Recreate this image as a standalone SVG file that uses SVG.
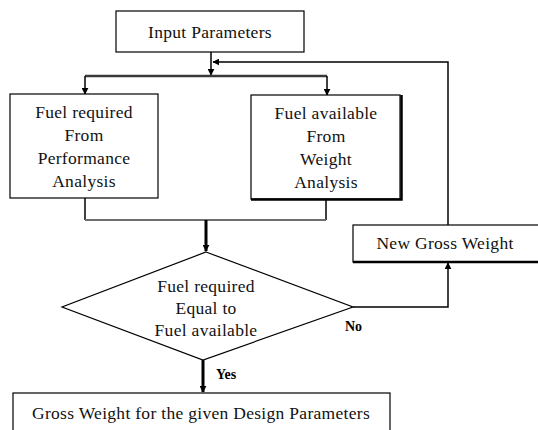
<svg xmlns="http://www.w3.org/2000/svg" width="538" height="430" viewBox="0 0 538 430">
  <style>
    .box { fill: #ffffff; stroke: #000000; stroke-width: 1.2; }
    .txt { font-family: 'Liberation Serif', Tinos, 'Times New Roman', 'DejaVu Serif', serif; font-size: 17.5px; fill: #111111; text-anchor: middle; letter-spacing: 0.3px; }
    .lbl { font-family: 'Liberation Serif', Tinos, 'Times New Roman', 'DejaVu Serif', serif; font-size: 14px; font-weight: bold; fill: #000000; }
    .ln { fill: none; stroke: #000000; stroke-width: 1.5; }
    .thick { fill: none; stroke: #000000; stroke-width: 3; }
    .gray { fill: none; stroke: #6e6e6e; stroke-width: 2.2; }
    .dark { fill: none; stroke: #3a3a3a; stroke-width: 2.5; }
  </style>
  <defs>
    <marker id="arrow" viewBox="0 0 10 10" refX="9" refY="5" markerWidth="7" markerHeight="7" markerUnits="userSpaceOnUse" orient="auto">
      <path d="M0,0 L10,5 L0,10 z" fill="#000000"/>
    </marker>
  </defs>

  <!-- connectors -->
  <g id="connectors">
    <!-- input to split -->
    <path class="ln" d="M211,52 V75" marker-end="url(#arrow)"/>
    <path class="dark" d="M85,76 H327"/>
    <path class="ln" d="M85,76 V94" marker-end="url(#arrow)"/>
    <path class="ln" d="M327,76 V95" marker-end="url(#arrow)"/>
    <!-- merge into decision -->
    <path class="ln" d="M85,198 V220"/>
    <path class="ln" d="M326,200 V220"/>
    <path class="gray" d="M85,220 H326"/>
    <path class="thick" d="M206,220 V251" marker-end="url(#arrow)"/>
    <!-- No branch -->
    <path class="ln" d="M353,307 H448 V263" marker-end="url(#arrow)"/>
    <!-- feedback loop -->
    <path class="ln" d="M448,225 V62 H213" marker-end="url(#arrow)"/>
    <!-- Yes branch -->
    <path class="thick" d="M203,360 V392" marker-end="url(#arrow)"/>
  </g>

  <g id="input">
    <rect class="box" x="116" y="11" width="188" height="41"/>
    <text class="txt" x="210" y="38">Input Parameters</text>
  </g>

  <g id="fuel-required">
    <rect class="box" x="10" y="94" width="148" height="104"/>
    <text class="txt" x="84" y="118">Fuel required</text>
    <text class="txt" x="84" y="141">From</text>
    <text class="txt" x="84" y="164">Performance</text>
    <text class="txt" x="84" y="187">Analysis</text>
  </g>

  <g id="fuel-available">
    <rect class="box" x="251" y="95" width="149" height="104"/>
    <path d="M251,199.5 H401.5 V95" fill="none" stroke="#000" stroke-width="2.5"/>
    <text class="txt" x="326" y="119">Fuel available</text>
    <text class="txt" x="326" y="142">From</text>
    <text class="txt" x="326" y="165">Weight</text>
    <text class="txt" x="326" y="188">Analysis</text>
  </g>

  <g id="decision">
    <polygon class="box" points="206,252 353,307 203,360 62,307"/>
    <text class="txt" x="206" y="292">Fuel required</text>
    <text class="txt" x="206" y="314">Equal to</text>
    <text class="txt" x="206" y="336">Fuel available</text>
  </g>

  <g id="new-gross-weight">
    <rect class="box" x="353" y="225" width="200" height="37"/>
    <path d="M353,262 H540" fill="none" stroke="#000" stroke-width="2.5"/>
    <text class="txt" x="445" y="249">New Gross Weight</text>
  </g>

  <g id="result">
    <rect class="box" x="13" y="393" width="377" height="50"/>
    <text class="txt" x="201" y="419">Gross Weight for the given Design Parameters</text>
  </g>

  <g id="labels">
    <text class="lbl" x="345" y="331">No</text>
    <text class="lbl" x="216" y="379">Yes</text>
  </g>
</svg>
